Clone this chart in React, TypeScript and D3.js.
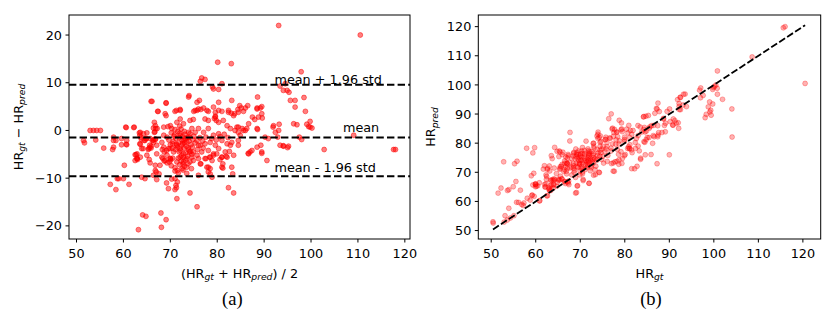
import React from "react";
import * as d3 from "d3";

// [ (HR_gt + HR_pred)/2 , HR_gt - HR_pred ]
const blandAltman: [number, number][] = [
  [93.1, 22.0], [110.5, 20.0], [80.1, 14.3], [83.0, 14.0], [97.9, 12.3],
  [76.7, 11.0], [77.4, 10.7], [76.4, 10.3], [79.0, 9.1], [79.2, 8.7], [81.0, 9.8], [80.3, 8.6],
  [93.4, 9.3], [94.1, 8.4], [94.9, 8.4], [94.5, 9.8], [95.3, 8.0],
  [74.0, 7.3], [76.2, 6.3], [80.3, 5.9], [83.1, 6.3], [88.6, 7.0], [95.6, 6.3], [96.6, 6.3], [98.5, 6.9],
  [65.9, 6.1], [69.1, 5.7], [66.1, 6.1], [69.1, 5.8], [73.9, 7.0], [75.7, 5.9],
  [89.5, 5.0], [88.5, 4.7], [84.8, 5.2], [85.1, 4.7], [86.0, 4.7], [86.5, 5.2], [84.4, 4.4],
  [96.6, 4.9], [98.8, 4.0],
  [82.4, 3.8], [83.5, 3.1], [83.0, 3.6], [80.3, 4.2], [81.0, 4.0], [79.6, 3.0], [79.8, 2.1], [79.4, 2.5],
  [75.0, 4.0], [75.7, 4.2], [76.5, 4.4], [77.1, 4.7], [78.1, 4.0], [71.3, 4.2], [72.1, 4.4], [67.4, 4.0],
  [67.3, 4.0], [68.9, 3.5], [71.0, 4.0], [72.1, 4.2], [75.3, 4.2], [69.1, 3.1],
  [76.0, 4.5], [77.8, 4.2], [79.2, 4.9], [79.6, 3.8], [82.4, 4.2], [84.5, 3.8], [83.7, 3.5], [85.6, 4.0],
  [88.5, 4.5], [89.2, 4.7], [87.5, 2.8], [88.8, 2.8], [89.5, 3.5], [89.6, 2.6], [88.0, 2.3],
  [96.3, 1.4], [97.0, 1.2], [99.8, 1.9], [99.1, 1.3], [99.8, 0.7], [99.5, 0.8], [100.2, 0.5],
  [92.0, 1.0], [93.2, 1.3], [91.9, 0.7], [92.4, -0.4], [93.1, 0.0], [92.9, -1.4], [90.2, -1.4], [90.9, -1.7], [88.6, 0.2],
  [93.4, -3.1], [94.1, -3.3], [95.2, -3.3], [94.1, -3.2], [95.0, -3.6],
  [97.5, -1.4], [98.0, -1.9],
  [109.1, -1.0], [102.8, -4.0], [117.6, -4.0], [118.0, -4.0],
  [84.5, -0.4], [84.5, -2.1], [84.9, -1.0], [85.6, 0.0], [86.3, 0.4], [84.2, 0.7],
  [87.0, -4.5], [87.4, -4.2], [86.7, -4.9], [89.5, -4.5], [90.6, -6.3], [89.3, -3.1], [88.5, -3.5], [89.5, -4.8], [86.6, -4.8],
  [82.6, -4.4], [82.8, -3.1], [81.0, -5.6], [81.9, -5.4], [79.9, -4.9], [79.2, -5.2], [78.5, -5.6], [76.5, -7.0], [77.4, -5.9],
  [81.2, -7.9], [81.0, -7.7], [77.8, -7.7], [78.1, -8.7], [78.5, -9.1], [76.0, -9.4], [78.9, -9.8], [83.3, -9.1],
  [74.2, -13.1], [75.7, -16.0], [82.4, -12.0], [83.5, -13.1],
  [52.9, 0.0], [53.6, 0.0], [54.3, 0.0], [55.1, 0.0],
  [51.7, -2.6], [51.5, -2.1], [54.1, -2.0], [55.8, -3.7], [57.7, -4.0], [57.9, -3.5], [57.9, -2.1], [57.9, -1.4], [58.4, -2.1],
  [59.6, -3.0], [59.6, -1.7], [60.7, -3.0], [60.5, 0.7], [60.6, 0.6], [62.2, 0.6], [60.7, -2.1], [60.6, -2.9], [62.3, 0.7],
  [62.7, -5.1], [63.0, -6.1], [62.5, -6.3], [62.9, -5.9], [60.2, -7.3], [65.5, -6.1], [65.7, -6.8], [66.8, -8.4],
  [59.0, -10.1], [58.7, -10.1], [60.0, -10.1], [63.9, -9.8], [64.6, -10.1], [66.4, -9.4], [67.0, -8.7], [67.1, -10.3], [67.6, -9.1],
  [57.2, -11.3], [58.4, -12.4], [61.2, -11.3],
  [69.2, -11.0], [69.6, -12.2], [70.3, -10.2], [71.0, -10.1], [71.2, -11.5], [71.0, -12.4], [71.3, -12.0], [71.5, -10.8], [71.4, -14.3],
  [64.1, -17.7], [64.8, -18.0], [63.2, -20.8], [68.0, -17.3], [69.1, -18.7], [68.1, -20.3],
  [68.4, -5.9], [68.7, -6.4], [69.3, -6.8], [69.8, -6.6], [70.1, -6.2], [70.5, -5.8],
  [68.3, -4.0], [68.7, -4.5], [69.2, -4.2], [69.9, -3.8], [70.4, -3.7],
  [63.5, -1.0], [63.8, -1.8], [63.6, -2.9], [64.2, -3.8], [64.6, -2.1], [64.9, -1.7], [65.6, -3.6], [65.9, -3.3],
  [66.4, -2.0], [66.8, -1.8], [66.7, -0.3], [67.2, 0.4],
  [66.6, 1.7], [66.8, 1.0], [66.4, 0.5], [68.6, 0.7], [70.0, 1.0], [70.3, 0.4],
  [71.4, 1.7], [72.1, 2.4], [72.8, 1.4], [74.2, 2.1], [74.9, 2.3],
  [63.6, -0.4], [64.3, -0.7], [65.0, -0.5],
  [65.7, -1.7], [66.4, -2.5], [67.1, -3.1], [65.6, -3.1], [65.4, -3.8], [62.5, -5.1], [62.9, -5.9],
  [68.6, -1.0], [69.3, -1.4], [68.2, -2.5], [68.6, -3.5], [69.6, -3.8], [69.3, -5.2], [70.0, -5.9], [70.7, -4.5],
  [71.4, -3.1], [72.1, -3.8], [72.8, -4.9], [73.5, -5.9], [74.2, -6.6], [74.9, -4.5], [75.7, -5.2], [72.1, -1.0],
  [73.2, -1.7], [73.9, -0.4], [74.6, 0.4], [75.3, -0.4], [75.7, -2.1], [76.0, -3.1], [71.4, -6.6], [72.8, -6.6],
  [77.4, 2.4], [78.1, 2.1], [79.6, 2.8], [80.3, 1.7], [81.3, 2.1], [82.1, 1.0], [82.8, 0.4], [83.8, 0.0],
  [84.5, 0.7], [85.3, 0.4], [86.0, 0.0], [86.7, 1.4], [88.5, 0.4],
  [76.0, 0.4], [77.1, -0.4], [78.1, 0.4], [79.2, -1.0], [80.3, -0.7], [81.0, -2.1], [82.1, -2.8], [83.1, -2.5],
  [84.5, -3.1], [78.5, -2.5], [77.4, -2.8], [76.4, -3.1], [79.6, -3.1], [76.7, -4.5], [78.1, -4.2], [80.3, -3.8],
  [81.7, -4.5], [76.0, -5.9], [78.9, -6.3], [82.1, -5.6],
  [72.5, -2.0], [73.0, -2.6], [73.4, -3.3], [74.0, -2.2], [74.4, -3.0], [75.0, -1.2], [75.3, -2.6], [76.3, -1.5],
  [76.9, -2.2], [77.6, -1.4], [78.8, -1.7], [79.8, -2.0], [80.6, -1.3], [81.5, -0.8], [82.3, -1.5], [75.8, -4.0],
  [77.0, -3.7], [74.6, -5.0], [73.9, -4.1], [72.9, -3.7], [71.8, -2.6], [71.2, -1.7], [70.6, -2.3], [70.9, -0.9],
  [71.6, -0.2], [72.3, 0.3], [73.1, -0.8], [72.6, -1.3], [73.6, -1.5], [74.2, -0.7], [74.8, -1.9], [71.9, -4.5],
  [72.4, -5.3], [73.2, -6.2], [72.0, -7.2], [73.0, -7.5], [73.8, -7.0], [71.0, -7.8], [70.2, -7.4], [72.7, -8.3],
  [74.5, -8.0], [73.5, -9.0],
  [70.0, -5.9], [72.7, -7.0], [72.1, -5.6], [76.4, -7.0], [77.6, -5.9], [78.4, -5.6], [81.0, -5.6],
  [74.1, -4.5], [74.6, -5.6], [74.9, -6.3], [73.5, -7.7], [72.5, -8.0], [71.5, -8.4], [71.7, -8.9], [71.0, -8.5],
  [78.1, -7.7], [78.5, -8.0], [79.2, -4.9], [80.6, -6.1], [81.2, -7.0], [83.5, -5.2], [83.1, -7.7],
  [62.9, -4.9], [63.6, -5.6], [65.0, -5.2], [66.8, -7.3], [67.8, -7.3], [67.1, -4.9], [68.2, -5.6], [68.9, -6.3],
  [63.4, -0.5], [63.7, -1.4], [63.5, -2.8], [63.9, -3.8], [64.4, -2.1], [64.8, -1.7], [65.3, -4.0], [65.9, -3.7],
  [66.2, -2.1], [66.8, -1.9], [66.6, -0.4], [66.9, 0.4],
  [69.5, 0.8], [70.2, -0.5], [70.8, -1.2], [71.3, -2.9], [72.0, -0.6], [72.6, -2.7], [69.7, -2.0], [70.0, -3.0],
  [71.5, -3.5], [72.2, -4.2], [72.9, -2.1], [73.5, -2.4], [73.8, -3.6], [74.3, -4.4], [71.9, -1.5], [72.4, -3.1],
  [73.3, -4.7], [74.7, -3.5], [71.1, -4.0], [72.8, -5.6], [73.7, -5.4], [71.7, -5.8], [72.3, -6.4], [74.0, -1.4],
  [73.0, -0.2], [72.0, 0.9], [71.0, 0.2], [70.5, -2.8],
];

const meanDiff = -1.5;
const upperLimit = 9.6;
const lowerLimit = -9.6;

const xTicksA = [50, 60, 70, 80, 90, 100, 110, 120];
const yTicksA = [-20, -10, 0, 10, 20];
const ticksB = [50, 60, 70, 80, 90, 100, 110, 120];

const hrGt = blandAltman.map(([m, d]) => m + d / 2);
const hrPred = blandAltman.map(([m, d]) => m - d / 2);

const FONT = "DejaVu Sans, sans-serif";
const FS = 12.8;

export default function App() {
  // Panel (a)
  const A = { l: 69, r: 410, t: 15, b: 239 };
  const xA = d3.scaleLinear().domain([48.4, 121.1]).range([A.l, A.r]);
  const yA = d3.scaleLinear().domain([-22.75, 24.2]).range([A.b, A.t]);
  // Panel (b)
  const B = { l: 478.3, r: 820.7, t: 15, b: 239 };
  const xB = d3.scaleLinear().domain([47.1, 124]).range([B.l, B.r]);
  const yB = d3.scaleLinear().domain([47.1, 124]).range([B.b, B.t]);
  const fmt = d3.format("d");

  const gtMin = d3.min(hrGt) as number;
  const gtMax = d3.max(hrGt) as number;
  const idLine = d3.line<number>().x((v) => xB(v)).y((v) => yB(v))([gtMin, gtMax]) as string;

  const subFs = FS * 0.72;

  return (
    <svg width={830} height={314} style={{ position: "absolute", left: 0, top: 0, background: "#fff" }} fontFamily={FONT}>
      <rect x={0} y={0} width={830} height={314} fill="#fff" />
      <defs>
        <clipPath id="clipA"><rect x={A.l} y={A.t} width={A.r - A.l} height={A.b - A.t} /></clipPath>
        <clipPath id="clipB"><rect x={B.l} y={B.t} width={B.r - B.l} height={B.b - B.t} /></clipPath>
      </defs>
      {/* Panel A */}
      <g clipPath="url(#clipA)">
        {blandAltman.map(([m, d], i) => (
          <circle key={i} cx={xA(m)} cy={yA(d)} r={2.45} fill="#ff0000" fillOpacity={0.5} stroke="#ff0000" strokeOpacity={0.5} strokeWidth={1} />
        ))}
        {[upperLimit, meanDiff, lowerLimit].map((v, i) => (
          <line key={i} x1={A.l} x2={A.r} y1={yA(v)} y2={yA(v)} stroke="#000" strokeWidth={2} strokeDasharray="7.4 3.2" />
        ))}
      </g>
      <text x={xA(92.2)} y={yA(9.8)} fontSize={FS} fill="#000">mean + 1.96 std</text>
      <text x={xA(106.8)} y={yA(-0.36)} fontSize={FS} fill="#000">mean</text>
      <text x={xA(92.2)} y={yA(-8.74)} fontSize={FS} fill="#000">mean - 1.96 std</text>
      <rect x={A.l} y={A.t} width={A.r - A.l} height={A.b - A.t} fill="none" stroke="#000" strokeWidth={1} />
      {xTicksA.map((t) => (
        <g key={t}>
          <line x1={xA(t)} x2={xA(t)} y1={A.b} y2={A.b + 3.5} stroke="#000" strokeWidth={1} />
          <text x={xA(t)} y={A.b + 19} fontSize={FS} textAnchor="middle" fill="#000">{fmt(t)}</text>
        </g>
      ))}
      {yTicksA.map((t) => (
        <g key={t}>
          <line x1={A.l - 3.5} x2={A.l} y1={yA(t)} y2={yA(t)} stroke="#000" strokeWidth={1} />
          <text x={A.l - 7} y={yA(t) + 4.6} fontSize={FS} textAnchor="end" fill="#000">{fmt(t)}</text>
        </g>
      ))}
      <text x={(A.l + A.r) / 2} y={277.5} fontSize={FS} textAnchor="middle" fill="#000">
        <tspan>(HR</tspan>
        <tspan fontSize={subFs} fontStyle="italic" dy={2.5}>gt</tspan>
        <tspan dy={-2.5}> + HR</tspan>
        <tspan fontSize={subFs} fontStyle="italic" dy={2.5}>pred</tspan>
        <tspan dy={-2.5}>) / 2</tspan>
      </text>
      <text transform={`translate(22.5, ${(A.t + A.b) / 2}) rotate(-90)`} fontSize={FS} textAnchor="middle" fill="#000">
        <tspan>HR</tspan>
        <tspan fontSize={subFs} fontStyle="italic" dy={2.5}>gt</tspan>
        <tspan dy={-2.5}> − HR</tspan>
        <tspan fontSize={subFs} fontStyle="italic" dy={2.5}>pred</tspan>
      </text>
      <text x={232.3} y={305} fontSize={18.5} textAnchor="middle" fontFamily="Liberation Serif, serif" fill="#000">(a)</text>

      {/* Panel B */}
      <g clipPath="url(#clipB)">
        {blandAltman.map((_, i) => (
          <circle key={i} cx={xB(hrGt[i])} cy={yB(hrPred[i])} r={2.45} fill="#ff0000" fillOpacity={0.3} stroke="#ff0000" strokeOpacity={0.3} strokeWidth={1} />
        ))}
        <path d={idLine} fill="none" stroke="#000" strokeWidth={1.8} strokeDasharray="7 2.5" />
      </g>
      <rect x={B.l} y={B.t} width={B.r - B.l} height={B.b - B.t} fill="none" stroke="#000" strokeWidth={1} />
      {ticksB.map((t) => (
        <g key={"x" + t}>
          <line x1={xB(t)} x2={xB(t)} y1={B.b} y2={B.b + 3.5} stroke="#000" strokeWidth={1} />
          <text x={xB(t)} y={B.b + 19} fontSize={FS} textAnchor="middle" fill="#000">{fmt(t)}</text>
        </g>
      ))}
      {ticksB.map((t) => (
        <g key={"y" + t}>
          <line x1={B.l - 3.5} x2={B.l} y1={yB(t)} y2={yB(t)} stroke="#000" strokeWidth={1} />
          <text x={B.l - 7} y={yB(t) + 4.6} fontSize={FS} textAnchor="end" fill="#000">{fmt(t)}</text>
        </g>
      ))}
      <text x={(B.l + B.r) / 2} y={277.5} fontSize={FS} textAnchor="middle" fill="#000">
        <tspan>HR</tspan>
        <tspan fontSize={subFs} fontStyle="italic" dy={2.5}>gt</tspan>
      </text>
      <text transform={`translate(435, ${(B.t + B.b) / 2}) rotate(-90)`} fontSize={FS} textAnchor="middle" fill="#000">
        <tspan>HR</tspan>
        <tspan fontSize={subFs} fontStyle="italic" dy={2.5}>pred</tspan>
      </text>
      <text x={651} y={305} fontSize={18.5} textAnchor="middle" fontFamily="Liberation Serif, serif" fill="#000">(b)</text>
    </svg>
  );
}
